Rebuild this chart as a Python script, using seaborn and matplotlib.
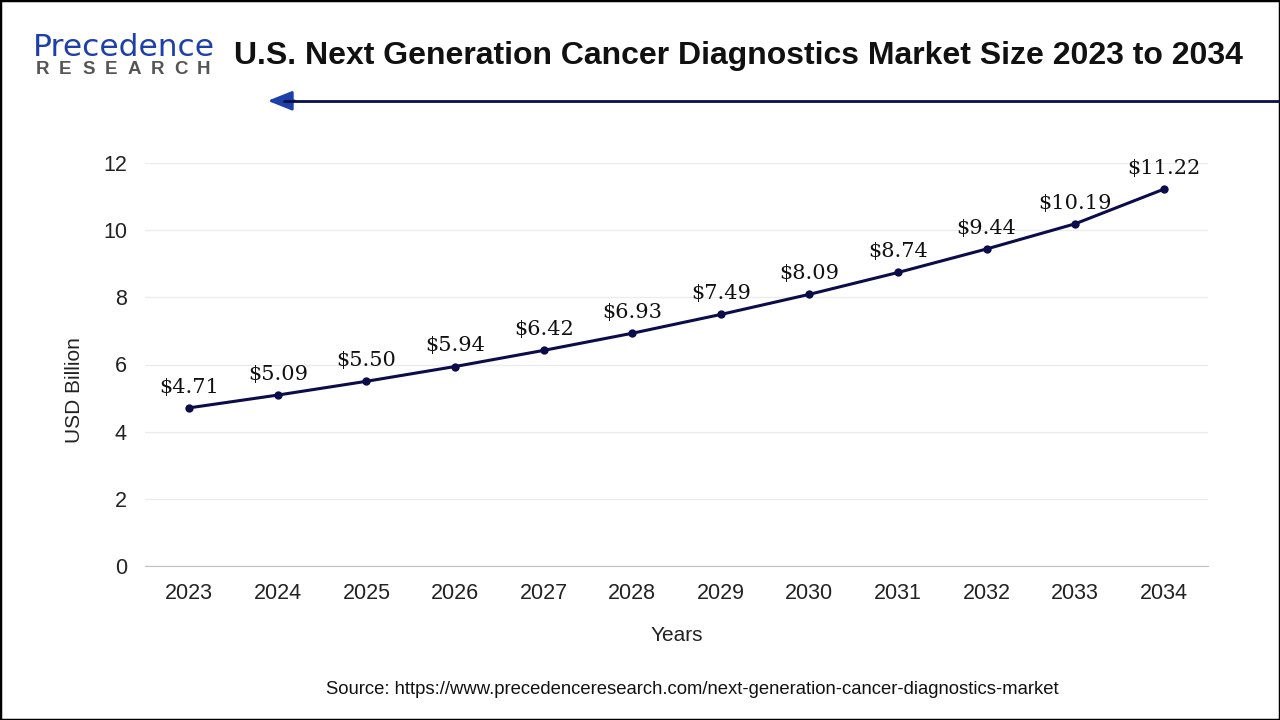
import matplotlib
matplotlib.use("Agg")
import matplotlib.pyplot as plt
import seaborn as sns
import pandas as pd
from matplotlib.patches import Rectangle

years = ["2023", "2024", "2025", "2026", "2027", "2028",
         "2029", "2030", "2031", "2032", "2033", "2034"]
values = [4.71, 5.09, 5.50, 5.94, 6.42, 6.93, 7.49, 8.09, 8.74, 9.44, 10.19, 11.22]
yticks = [0, 2, 4, 6, 8, 10, 12]

df = pd.DataFrame({"Year": years, "Value": values})
df["pos"] = range(len(df))

sns.set_style("white")
plt.rcParams["font.family"] = ["Liberation Sans", "DejaVu Sans"]

line_color = "#0c0c4a"

fig = plt.figure(figsize=(12.8, 7.2), dpi=100)
ax = fig.add_axes([0.1133, 0.2139, 0.8305, 0.5597])

sns.lineplot(data=df, x="pos", y="Value", ax=ax, color=line_color,
             linewidth=2.2, marker="o", markersize=6, markeredgewidth=0)

for x, v in zip(df["pos"], df["Value"]):
    ax.annotate(f"${v:.2f}", (x, v), xytext=(0, 8), textcoords="offset points",
                ha="center", va="bottom", fontsize=15, family="DejaVu Serif",
                color="#111111", annotation_clip=False)

ax.set_xlim(-0.5, len(years) - 0.5)
ax.set_ylim(0, 12)
ax.set_xticks(df["pos"])
ax.set_xticklabels(years)
ax.set_yticks(yticks)
ax.tick_params(axis="both", labelsize=15.5, colors="#222222", length=0)
ax.tick_params(axis="x", pad=12)
ax.tick_params(axis="y", pad=13)
ax.grid(axis="y", color="#ececec", linewidth=1)
ax.set_axisbelow(True)
for s in ["top", "right", "left"]:
    ax.spines[s].set_visible(False)
ax.spines["bottom"].set_color("#c0c0c0")
ax.set_xlabel("Years", fontsize=15, color="#222222")
ax.set_ylabel("USD Billion", fontsize=15, color="#222222")
ax.xaxis.set_label_coords(0.5, -0.150)
ax.yaxis.set_label_coords(-0.0575, 0.437)

# title and logo
fig.text(0.1828, 0.922, "U.S. Next Generation Cancer Diagnostics Market Size 2023 to 2034",
         fontsize=23, fontweight="bold", color="#111111", va="center", ha="left")
fig.text(0.026, 0.934, "Precedence", fontsize=22.5, color="#1d3fa8", va="center",
         ha="left", family="DejaVu Sans")
for i, ch in enumerate("RESEARCH"):
    fig.text((36 + i * 23.0) / 1280, 0.903, ch, fontsize=13.5, color="#555555",
             fontweight="bold", va="center", ha="left")

# arrow line under title
fig.add_artist(plt.Line2D([0.222, 1.0], [0.86, 0.86], color=line_color, linewidth=2,
                          transform=fig.transFigure))
ax.annotate("", xy=(0.207, 0.86), xytext=(0.232, 0.86), xycoords="figure fraction",
            arrowprops=dict(arrowstyle="-|>,head_length=1.5,head_width=0.6",
                            color="#1d3fa8", lw=2))

fig.text(0.5406, 0.043, "Source: https://www.precedenceresearch.com/next-generation-cancer-diagnostics-market",
         fontsize=13.3, color="#111111", ha="center", va="center")

fig.add_artist(Rectangle((0, 0), 1, 1, transform=fig.transFigure, fill=False,
                         edgecolor="black", linewidth=2.5))

fig.savefig("out.png", dpi=100)
